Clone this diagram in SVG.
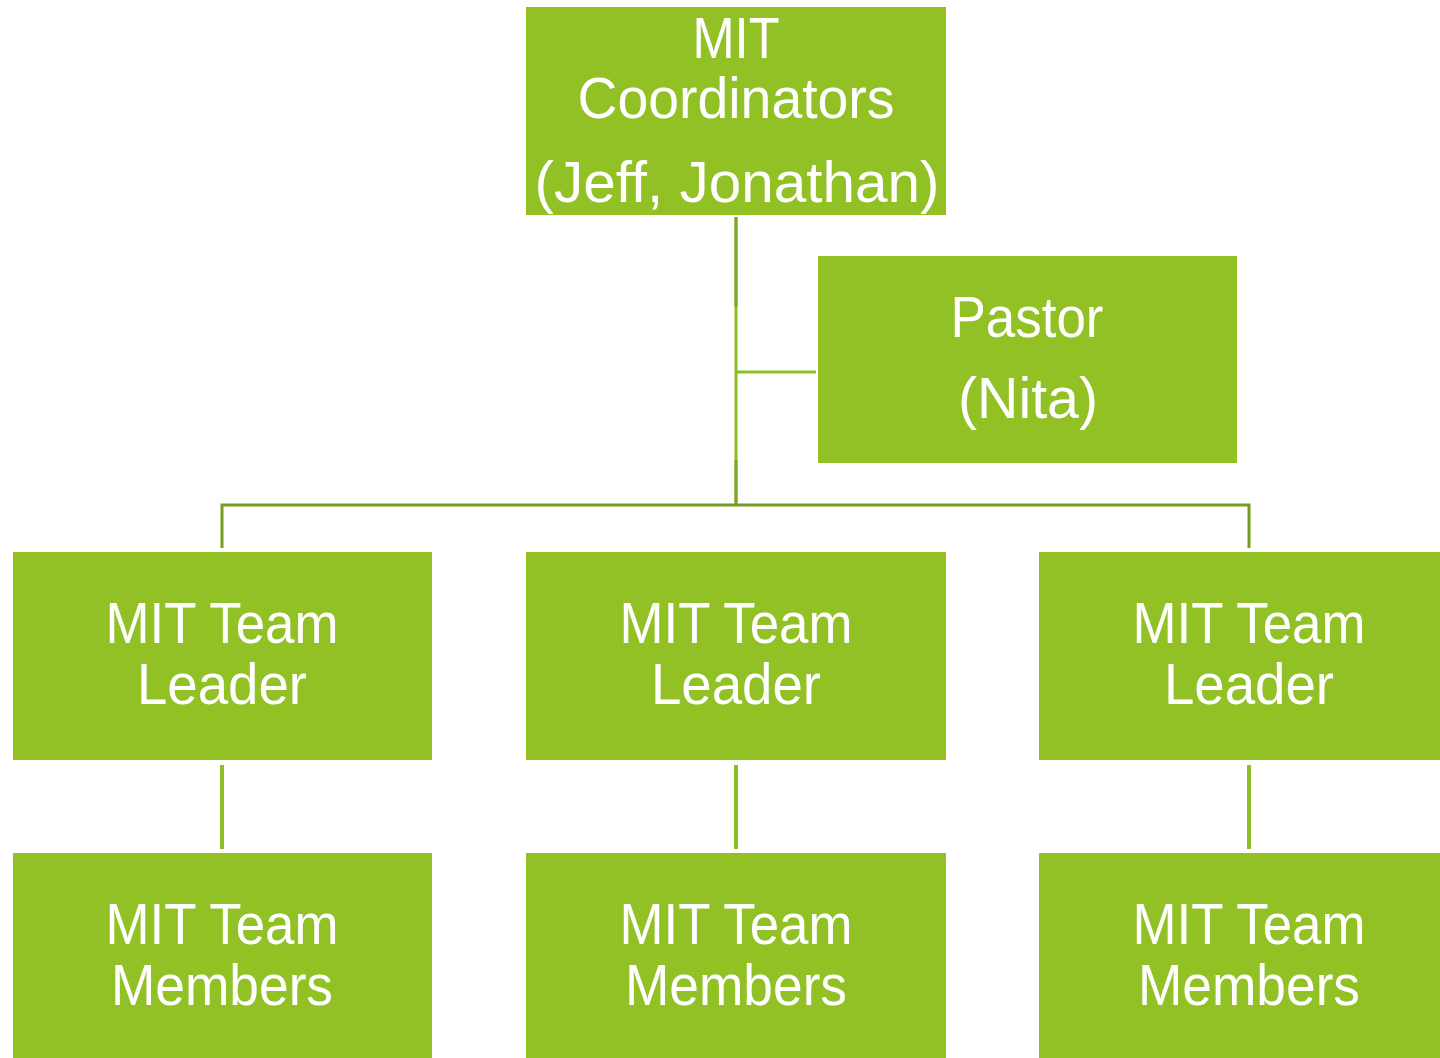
<svg xmlns="http://www.w3.org/2000/svg" width="1440" height="1058" viewBox="0 0 1440 1058">
<style>
.box{fill:#92C126}
.t{font-family:"Liberation Sans",Arial,sans-serif;font-size:57px;fill:#FFFFFF;text-anchor:middle}
.dk{stroke:#739E20;stroke-width:3;fill:none}
.lt{stroke:#8DBE26;stroke-width:3;fill:none}
</style>
<rect width="1440" height="1058" fill="#FFFFFF"/>
<g id="connectors">
<line class="lt" x1="736" y1="217" x2="736" y2="505"/>
<line class="dk" x1="736" y1="217" x2="736" y2="307" style="stroke:#7CA820"/>
<line class="dk" x1="736" y1="460" x2="736" y2="505" style="stroke:#7CA820"/>
<line class="lt" x1="737" y1="372" x2="816" y2="372"/>
<polyline class="dk" points="222,548 222,505 1249,505 1249,548"/>
<line class="lt" x1="222" y1="765" x2="222" y2="849" style="stroke-width:4"/>
<line class="lt" x1="736" y1="765" x2="736" y2="849" style="stroke-width:4"/>
<line class="lt" x1="1249" y1="765" x2="1249" y2="849" style="stroke-width:4"/>
</g>
<g id="coordinators">
<rect class="box" x="526" y="7" width="420" height="208"/>
<text class="t" x="736" y="58" textLength="87" lengthAdjust="spacingAndGlyphs">MIT</text>
<text class="t" x="736" y="118" textLength="317" lengthAdjust="spacingAndGlyphs">Coordinators</text>
<text class="t" x="737" y="202" textLength="405" lengthAdjust="spacingAndGlyphs">(Jeff, Jonathan)</text>
</g>
<g id="pastor">
<rect class="box" x="818" y="256" width="419" height="207"/>
<text class="t" x="1027" y="337" textLength="153" lengthAdjust="spacingAndGlyphs">Pastor</text>
<text class="t" x="1028" y="418" textLength="140" lengthAdjust="spacingAndGlyphs">(Nita)</text>
</g>
<g id="leader1">
<rect class="box" x="13" y="552" width="419" height="208"/>
<text class="t" x="222" y="643" textLength="233" lengthAdjust="spacingAndGlyphs">MIT Team</text>
<text class="t" x="222" y="704" textLength="170" lengthAdjust="spacingAndGlyphs">Leader</text>
</g>
<g id="leader2">
<rect class="box" x="526" y="552" width="420" height="208"/>
<text class="t" x="736" y="643" textLength="233" lengthAdjust="spacingAndGlyphs">MIT Team</text>
<text class="t" x="736" y="704" textLength="170" lengthAdjust="spacingAndGlyphs">Leader</text>
</g>
<g id="leader3">
<rect class="box" x="1039" y="552" width="420" height="208"/>
<text class="t" x="1249" y="643" textLength="233" lengthAdjust="spacingAndGlyphs">MIT Team</text>
<text class="t" x="1249" y="704" textLength="170" lengthAdjust="spacingAndGlyphs">Leader</text>
</g>
<g id="members1">
<rect class="box" x="13" y="853" width="419" height="210"/>
<text class="t" x="222" y="944" textLength="233" lengthAdjust="spacingAndGlyphs">MIT Team</text>
<text class="t" x="222" y="1005" textLength="222" lengthAdjust="spacingAndGlyphs">Members</text>
</g>
<g id="members2">
<rect class="box" x="526" y="853" width="420" height="210"/>
<text class="t" x="736" y="944" textLength="233" lengthAdjust="spacingAndGlyphs">MIT Team</text>
<text class="t" x="736" y="1005" textLength="222" lengthAdjust="spacingAndGlyphs">Members</text>
</g>
<g id="members3">
<rect class="box" x="1039" y="853" width="420" height="210"/>
<text class="t" x="1249" y="944" textLength="233" lengthAdjust="spacingAndGlyphs">MIT Team</text>
<text class="t" x="1249" y="1005" textLength="222" lengthAdjust="spacingAndGlyphs">Members</text>
</g>
</svg>
